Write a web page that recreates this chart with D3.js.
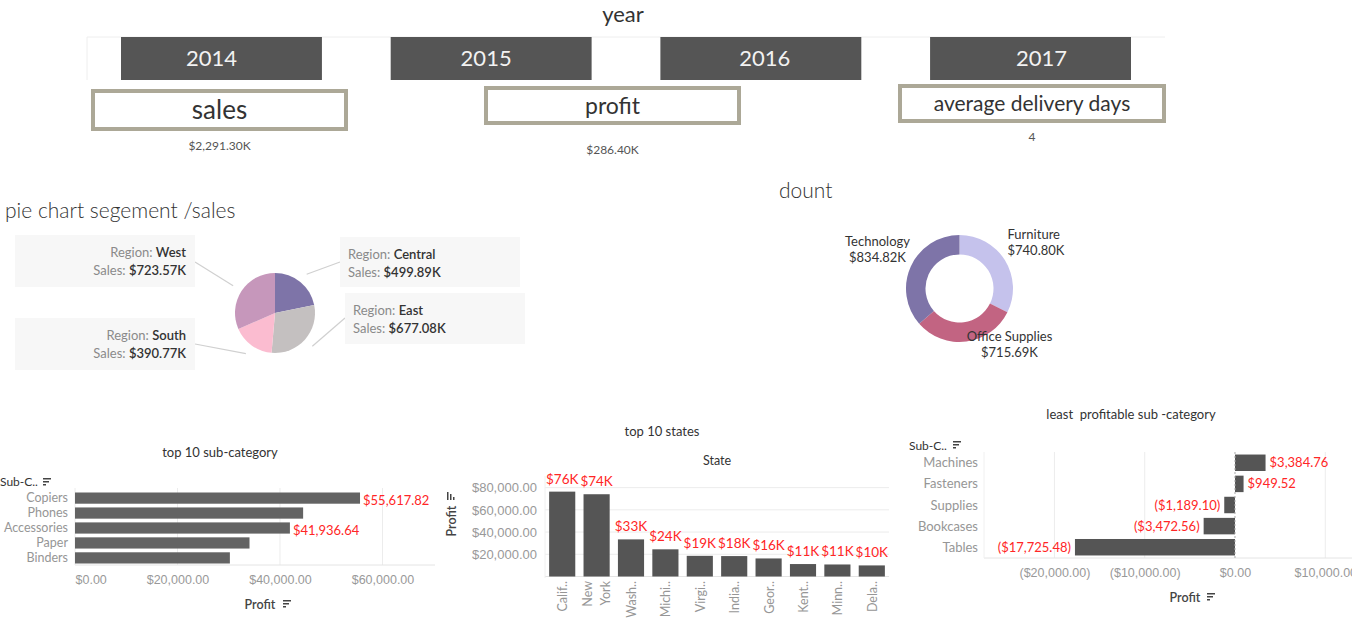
<!DOCTYPE html>
<html>
<head>
<meta charset="utf-8">
<script src="https://cdn.jsdelivr.net/npm/d3@7"></script>
<style>
  body { margin: 0; background: #fff; }
  svg { display: block; font-family: Lato, "Open Sans", sans-serif; }
</style>
</head>
<body>
<svg id="dash" width="1352" height="624"></svg>
<script>
// ---- data ----
const years = ["2014", "2015", "2016", "2017"];
const kpiLabels = ["sales", "profit", "average delivery days"];
const kpiValues = ["$2,291.30K", "$286.40K", "4"];

const regions = ["Central", "East", "South", "West"];
const regionSales = [499.89, 677.08, 390.77, 723.57];

const categories = ["Furniture", "Office Supplies", "Technology"];
const categorySales = [740.80, 715.69, 834.82];

const topSubCats = ["Copiers", "Phones", "Accessories", "Paper", "Binders"];
const topSubProfit = [55617.82, 44515.73, 41936.64, 34053.57, 30221.76];
const topSubLabelled = ["Copiers", "Accessories"];

const states = ["California", "New York", "Washington", "Michigan", "Virginia",
  "Indiana", "Georgia", "Kentucky", "Minnesota", "Delaware"];
const stateLabels = ["Calif..", "New York", "Wash..", "Michi..", "Virgi..",
  "India..", "Geor..", "Kent..", "Minn..", "Dela.."];
const stateProfit = [76381.39, 74038.55, 33402.65, 24463.19, 18597.95,
  18382.94, 16250.04, 11199.70, 10823.19, 9977.37];

const leastSubCats = ["Machines", "Fasteners", "Supplies", "Bookcases", "Tables"];
const leastProfit = [3384.76, 949.52, -1189.10, -3472.56, -17725.48];

const svg = d3.select("#dash");
const RED = "#ff2626";
const DARK = "#333";
const GREY = "#8a8a8a";
const GRID = "#ececec";

// little tableau sort icon
function sortIcon(g, x, y) {
  [8, 6, 3].forEach((w, i) => {
    g.append("rect").attr("x", x).attr("y", y + i * 3).attr("width", w).attr("height", 1.5).attr("fill", "#444");
  });
}

// ---- header: year buttons + KPI cards ----
svg.append("text").attr("x", 623).attr("y", 14).attr("dy", "0.35em")
  .attr("text-anchor", "middle").attr("font-size", 22).attr("fill", DARK).text("year");

svg.append("path").attr("d", "M87,80V37H1165").attr("fill", "none").attr("stroke", "#eeeeee");

const yearX = d3.scaleBand().domain(years).range([121, 1131]).paddingInner(0.255);
const yearTextShift = [-10, -5, 4, 11]; // tableau doesn't centre these exactly
const yearG = svg.append("g").selectAll("g").data(years).join("g")
  .attr("transform", d => `translate(${yearX(d)},37)`);
yearG.append("rect").attr("width", yearX.bandwidth()).attr("height", 43).attr("fill", "#555555");
yearG.append("text").attr("x", (d, i) => yearX.bandwidth() / 2 + yearTextShift[i]).attr("y", 21).attr("dy", "0.35em")
  .attr("text-anchor", "middle").attr("font-size", 22).attr("fill", "#f2f2f2").text(d => d);

const kpiBoxes = [
  { x: 91, y: 89, w: 257, h: 42, fs: 26, vy: 146 },
  { x: 484, y: 86, w: 257, h: 39, fs: 23, vy: 150 },
  { x: 898, y: 84, w: 268, h: 39, fs: 21, vy: 137 }
];
kpiLabels.forEach((lab, i) => {
  const b = kpiBoxes[i];
  svg.append("rect").attr("x", b.x + 2).attr("y", b.y + 2).attr("width", b.w - 4).attr("height", b.h - 4)
    .attr("fill", "#fff").attr("stroke", "#aca897").attr("stroke-width", 4);
  svg.append("text").attr("x", b.x + b.w / 2).attr("y", b.y + b.h / 2).attr("dy", "0.35em")
    .attr("text-anchor", "middle").attr("font-size", b.fs).attr("fill", DARK).text(lab);
  svg.append("text").attr("x", b.x + b.w / 2).attr("y", b.vy).attr("dy", "0.35em")
    .attr("text-anchor", "middle").attr("font-size", 12).attr("fill", "#555").text(kpiValues[i]);
});

// ---- pie: region sales ----
svg.append("text").attr("x", 5).attr("y", 211).attr("dy", "0.35em")
  .attr("font-size", 21).attr("font-weight", 300).attr("fill", DARK).text("pie chart segement /sales");

const pieC = [275, 313], pieR = 40;
const pieColor = d3.scaleOrdinal().domain(regions).range(["#7e74a8", "#c4c0c0", "#fbbcd0", "#c697bb"]);
const pieArcs = d3.pie().sort(null)(regionSales);
const pieG = svg.append("g").attr("transform", `translate(${pieC})`);
pieG.selectAll("path").data(pieArcs).join("path")
  .attr("d", d3.arc().innerRadius(0).outerRadius(pieR))
  .attr("fill", (d, i) => pieColor(regions[i]));

// label boxes (layout only)
const pieBoxes = {
  West: { x: 15, y: 235, w: 180, h: 52, side: "right", ax: 195, ay: 262 },
  Central: { x: 340, y: 237, w: 180, h: 50, side: "left", ax: 340, ay: 262 },
  East: { x: 345, y: 293, w: 180, h: 51, side: "left", ax: 345, ay: 318 },
  South: { x: 15, y: 318, w: 180, h: 52, side: "right", ax: 195, ay: 344 }
};
const kFmt = v => "$" + d3.format(",.2f")(v) + "K";
pieArcs.forEach((a, i) => {
  const r = regions[i], b = pieBoxes[r];
  const mid = (a.startAngle + a.endAngle) / 2;
  const ex = pieC[0] + Math.sin(mid) * (pieR + 10), ey = pieC[1] - Math.cos(mid) * (pieR + 10);
  svg.append("line").attr("x1", b.ax).attr("y1", b.ay).attr("x2", ex).attr("y2", ey)
    .attr("stroke", "#d0d0d0").attr("stroke-width", 1.2);
  svg.append("rect").attr("x", b.x).attr("y", b.y).attr("width", b.w).attr("height", b.h).attr("fill", "#f7f7f7");
  const tx = b.side === "right" ? b.x + b.w - 9 : b.x + 8;
  const anchor = b.side === "right" ? "end" : "start";
  const t1 = svg.append("text").attr("x", tx).attr("y", b.y + 17).attr("dy", "0.35em")
    .attr("text-anchor", anchor).attr("font-size", 13);
  t1.append("tspan").attr("fill", GREY).text("Region: ");
  t1.append("tspan").attr("fill", DARK).attr("font-weight", 600).text(r);
  const t2 = svg.append("text").attr("x", tx).attr("y", b.y + 35).attr("dy", "0.35em")
    .attr("text-anchor", anchor).attr("font-size", 13);
  t2.append("tspan").attr("fill", GREY).text("Sales: ");
  t2.append("tspan").attr("fill", DARK).attr("font-weight", 600).text(kFmt(regionSales[i]));
});

// ---- donut: category sales ----
svg.append("text").attr("x", 779).attr("y", 191).attr("dy", "0.35em")
  .attr("font-size", 21).attr("font-weight", 300).attr("fill", DARK).text("dount");

const donC = [959.5, 288.5];
const donColor = d3.scaleOrdinal().domain(categories).range(["#c5c2ec", "#c26482", "#7e74a8"]);
const donArcs = d3.pie().sort(null)(categorySales);
svg.append("g").attr("transform", `translate(${donC})`)
  .selectAll("path").data(donArcs).join("path")
  .attr("d", d3.arc().innerRadius(34).outerRadius(53.5))
  .attr("fill", (d, i) => donColor(categories[i]));

const donLabels = {
  Furniture: { dx: 48, dy: -50, anchor: "start" },
  "Office Supplies": { dx: 50, dy: 52, anchor: "middle" },
  Technology: { dx: -82, dy: -43, anchor: "middle" }
};
categories.forEach((c, i) => {
  const l = donLabels[c];
  const t = svg.append("text").attr("font-size", 13).attr("fill", DARK).attr("text-anchor", l.anchor);
  t.append("tspan").attr("x", donC[0] + l.dx).attr("y", donC[1] + l.dy).text(c);
  t.append("tspan").attr("x", donC[0] + l.dx).attr("y", donC[1] + l.dy + 16).text(kFmt(categorySales[i]));
});

// ---- top 10 sub-category (horizontal bars) ----
{
  const g = svg.append("g");
  const x = d3.scaleLinear().domain([0, 70250]).range([75, 435]);
  const y = d3.scaleBand().domain(topSubCats).range([491, 565]).paddingInner(0.25).paddingOuter(0.1);
  const fmt = d3.format("$,.2f");
  const ticks = [0, 20000, 40000, 60000];

  g.append("text").attr("x", 220).attr("y", 452).attr("dy", "0.35em").attr("text-anchor", "middle")
    .attr("font-size", 13).attr("fill", DARK).text("top 10 sub-category");
  g.append("text").attr("x", 0).attr("y", 482).attr("dy", "0.35em").attr("font-size", 12)
    .attr("fill", DARK).text("Sub-C..");
  sortIcon(g, 43, 478);

  g.selectAll(".grid").data(ticks).join("line")
    .attr("x1", d => x(d)).attr("x2", d => x(d)).attr("y1", 488).attr("y2", 565)
    .attr("stroke", GRID);
  g.append("line").attr("x1", 75).attr("x2", 435).attr("y1", 565).attr("y2", 565).attr("stroke", "#e4e4e4");

  g.selectAll(".bar").data(topSubCats).join("rect")
    .attr("x", x(0)).attr("y", d => y(d)).attr("height", y.bandwidth())
    .attr("width", (d, i) => x(topSubProfit[i]) - x(0)).attr("fill", "#636363");

  g.selectAll(".cat").data(topSubCats).join("text")
    .attr("x", 68).attr("y", d => y(d) + y.bandwidth() / 2).attr("dy", "0.35em")
    .attr("text-anchor", "end").attr("font-size", 12.5).attr("fill", "#969696").text(d => d);

  g.selectAll(".val").data(topSubCats.filter(d => topSubLabelled.includes(d))).join("text")
    .attr("x", d => x(topSubProfit[topSubCats.indexOf(d)]) + 3)
    .attr("y", d => y(d) + y.bandwidth() / 2 + 2).attr("dy", "0.35em")
    .attr("font-size", 13).attr("fill", RED).text(d => fmt(topSubProfit[topSubCats.indexOf(d)]));

  const ax = g.append("g").attr("transform", "translate(0,566)")
    .call(d3.axisBottom(x).tickValues(ticks).tickFormat(fmt).tickSize(0).tickPadding(9));
  ax.select(".domain").remove();
  ax.selectAll("text").attr("font-size", 12.5).attr("fill", "#999").attr("font-family", null)
    .attr("text-anchor", d => d === 0 ? "start" : "middle");

  g.append("text").attr("x", 260).attr("y", 605).attr("dy", "0.35em").attr("text-anchor", "middle")
    .attr("font-size", 12.5).attr("font-weight", 600).attr("fill", "#444").text("Profit");
  sortIcon(g, 283, 600);
}

// ---- top 10 states (vertical bars) ----
{
  const g = svg.append("g");
  const x = d3.scaleBand().domain(states).range([545, 889]).paddingInner(0.24).paddingOuter(0.12);
  const y = d3.scaleLinear().domain([0, 90000]).range([576.5, 476.5]);
  const ticks = [20000, 40000, 60000, 80000];

  g.append("text").attr("x", 662).attr("y", 431).attr("dy", "0.35em").attr("text-anchor", "middle")
    .attr("font-size", 13).attr("fill", DARK).text("top 10 states");
  g.append("text").attr("x", 717).attr("y", 461).attr("dy", "0.35em").attr("text-anchor", "middle")
    .attr("font-size", 12.5).attr("fill", DARK).text("State");

  g.selectAll(".grid").data(ticks).join("line")
    .attr("x1", 545).attr("x2", 889).attr("y1", d => y(d)).attr("y2", d => y(d)).attr("stroke", GRID);
  g.append("line").attr("x1", 545).attr("x2", 889).attr("y1", y(0)).attr("y2", y(0)).attr("stroke", "#e4e4e4");
  g.append("line").attr("x1", 545).attr("x2", 545).attr("y1", 476).attr("y2", 578).attr("stroke", "#f0f0f0");

  const ax = g.append("g").attr("transform", "translate(545,0)")
    .call(d3.axisLeft(y).tickValues(ticks).tickFormat(d3.format("$,.2f")).tickSize(0).tickPadding(8));
  ax.select(".domain").remove();
  ax.selectAll("text").attr("font-size", 13).attr("fill", "#999").attr("font-family", null);

  g.selectAll(".bar").data(states).join("rect")
    .attr("x", d => x(d)).attr("width", x.bandwidth())
    .attr("y", (d, i) => y(stateProfit[i])).attr("height", (d, i) => y(0) - y(stateProfit[i]))
    .attr("fill", "#555555");

  g.selectAll(".val").data(states).join("text")
    .attr("x", d => x(d) + x.bandwidth() / 2).attr("y", (d, i) => y(stateProfit[i]) - 8)
    .attr("text-anchor", "middle").attr("font-size", 13.5).attr("fill", RED)
    .text((d, i) => "$" + Math.round(stateProfit[i] / 1000) + "K");

  states.forEach((s, i) => {
    const cx = x(s) + x.bandwidth() / 2;
    const lines = stateLabels[i].split(" ");
    lines.forEach((ln, j) => {
      const bx = lines.length > 1 ? cx - 5 + j * 18 : cx + 5;
      g.append("text").attr("transform", `translate(${bx},581) rotate(-90)`)
        .attr("text-anchor", "end").attr("font-size", 12.5).attr("fill", "#969696").text(ln);
    });
  });

  g.append("text").attr("transform", "translate(456,521) rotate(-90)").attr("text-anchor", "middle")
    .attr("font-size", 12.5).attr("font-weight", 600).attr("fill", "#444").text("Profit");
  [[1.5, 8], [1.5, 6], [1.5, 3]].forEach((s, i) => {
    g.append("rect").attr("x", 447 + i * 3).attr("y", 500 - s[1]).attr("width", s[0]).attr("height", s[1]).attr("fill", "#444");
  });
}

// ---- least profitable sub-category (diverging bars) ----
{
  const g = svg.append("g");
  const x = d3.scaleLinear().domain([-27800, 12960]).range([984, 1352]);
  const y = d3.scaleBand().domain(leastSubCats).range([452, 558]).paddingInner(0.22).paddingOuter(0.12);
  const base = d3.format("$,.2f");
  const fmt = v => v < 0 ? "(" + base(-v) + ")" : base(v);
  const ticks = [-20000, -10000, 0, 10000];

  g.append("text").attr("x", 1131).attr("y", 414).attr("dy", "0.35em").attr("text-anchor", "middle")
    .attr("font-size", 13).attr("fill", DARK).attr("xml:space", "preserve").text("least  profitable sub -category");
  g.append("text").attr("x", 909).attr("y", 446).attr("dy", "0.35em").attr("font-size", 12)
    .attr("fill", DARK).text("Sub-C..");
  sortIcon(g, 953, 441);

  g.selectAll(".grid").data(ticks.filter(d => d !== 0)).join("line")
    .attr("x1", d => x(d)).attr("x2", d => x(d)).attr("y1", 452).attr("y2", 558).attr("stroke", GRID);
  g.append("line").attr("x1", 984).attr("x2", 1352).attr("y1", 558).attr("y2", 558).attr("stroke", "#e4e4e4");
  g.append("line").attr("x1", 984).attr("x2", 984).attr("y1", 452).attr("y2", 558).attr("stroke", "#f0f0f0");

  g.selectAll(".bar").data(leastSubCats).join("rect")
    .attr("x", (d, i) => x(Math.min(0, leastProfit[i]))).attr("y", d => y(d))
    .attr("width", (d, i) => Math.abs(x(leastProfit[i]) - x(0))).attr("height", y.bandwidth())
    .attr("fill", "#555555");

  g.append("line").attr("x1", x(0)).attr("x2", x(0)).attr("y1", 452).attr("y2", 558)
    .attr("stroke", "#aaa").attr("stroke-dasharray", "2,2");

  g.selectAll(".cat").data(leastSubCats).join("text")
    .attr("x", 978).attr("y", d => y(d) + y.bandwidth() / 2).attr("dy", "0.35em")
    .attr("text-anchor", "end").attr("font-size", 13).attr("fill", "#969696").text(d => d);

  g.selectAll(".val").data(leastSubCats).join("text")
    .attr("x", (d, i) => leastProfit[i] < 0 ? x(leastProfit[i]) - 4 : x(leastProfit[i]) + 4)
    .attr("y", d => y(d) + y.bandwidth() / 2).attr("dy", "0.35em")
    .attr("text-anchor", (d, i) => leastProfit[i] < 0 ? "end" : "start")
    .attr("font-size", 13).attr("fill", RED).text((d, i) => fmt(leastProfit[i]));

  const ax = g.append("g").attr("transform", "translate(0,558)")
    .call(d3.axisBottom(x).tickValues(ticks).tickFormat(fmt).tickSize(0).tickPadding(10));
  ax.select(".domain").remove();
  ax.selectAll("text").attr("font-size", 12.5).attr("fill", "#999").attr("font-family", null);

  g.append("text").attr("x", 1185).attr("y", 598).attr("dy", "0.35em").attr("text-anchor", "middle")
    .attr("font-size", 12.5).attr("font-weight", 600).attr("fill", "#444").text("Profit");
  sortIcon(g, 1207, 593);
}
</script>
</body>
</html>
